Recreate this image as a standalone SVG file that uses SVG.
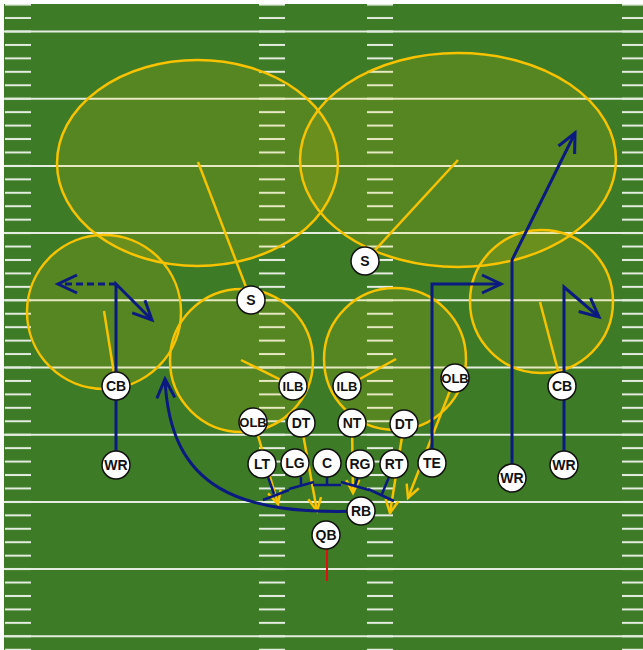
<svg xmlns="http://www.w3.org/2000/svg" width="643" height="650" viewBox="0 0 643 650">
<style>
.yl{stroke:#e4ede0;stroke-width:2}
.zone{fill:#ffd000;fill-opacity:.13;stroke:#f7c200;stroke-width:2.5}
.cov{stroke:#f7c200;stroke-width:2.5;fill:none}
.rush{stroke:#f7c200;stroke-width:2.5;fill:none;marker-end:url(#ya)}
.route{stroke:#0b1a80;stroke-width:3;fill:none}
.blk{stroke:#0b1a80;stroke-width:2.5;fill:none}
.node circle{fill:#fff;stroke:#111;stroke-width:1.5}
.node text{font-family:"Liberation Sans",Arial,sans-serif;font-weight:bold;font-size:14px;fill:#111;text-anchor:middle;dominant-baseline:central}
.node text.s{font-size:13px}
</style>
<defs>
<pattern id="hash" patternUnits="userSpaceOnUse" x="0" y="24.78" width="26" height="13.44">
<rect x="0" y="5.72" width="26" height="2" fill="#e4ede0"/>
</pattern>
<marker id="ba" markerUnits="userSpaceOnUse" viewBox="-22 -12 26 24" markerWidth="26" markerHeight="24" refX="0" refY="0" orient="auto" overflow="visible">
<path d="M-19,-9 L0,0 L-19,9" fill="none" stroke="#0b1a80" stroke-width="3"/>
</marker>
<marker id="ya" markerUnits="userSpaceOnUse" viewBox="-16 -9 20 18" markerWidth="20" markerHeight="18" refX="0" refY="0" orient="auto" overflow="visible">
<path d="M-13,-6.5 L0,0 L-13,6.5" fill="none" stroke="#f7c200" stroke-width="2.5"/>
</marker>
</defs>
<rect width="643" height="650" fill="#fff"/>
<g id="field">
<rect x="4" y="4" width="639" height="646" fill="#3d7b27"/>
<rect x="5" y="4" width="26" height="646" fill="url(#hash)"/>
<rect x="259" y="4" width="26" height="646" fill="url(#hash)"/>
<rect x="367" y="4" width="26" height="646" fill="url(#hash)"/>
<rect x="622" y="4" width="21" height="646" fill="url(#hash)"/>
<g class="yl">
<line x1="4" y1="31.5" x2="643" y2="31.5"/>
<line x1="4" y1="98.7" x2="643" y2="98.7"/>
<line x1="4" y1="165.9" x2="643" y2="165.9"/>
<line x1="4" y1="233.1" x2="643" y2="233.1"/>
<line x1="4" y1="300.3" x2="643" y2="300.3"/>
<line x1="4" y1="367.5" x2="643" y2="367.5"/>
<line x1="4" y1="434.7" x2="643" y2="434.7"/>
<line x1="4" y1="501.9" x2="643" y2="501.9"/>
<line x1="4" y1="569.1" x2="643" y2="569.1"/>
<line x1="4" y1="636.3" x2="643" y2="636.3"/>
</g>
</g>
<g id="zones">
<ellipse id="zone-deep-left" class="zone" cx="197.5" cy="163" rx="140.5" ry="103"/>
<ellipse id="zone-deep-right" class="zone" cx="458" cy="160" rx="158" ry="107"/>
<circle id="zone-flat-left" class="zone" cx="104" cy="312" r="77"/>
<circle id="zone-hook-left" class="zone" cx="241.5" cy="360.5" r="71.5"/>
<circle id="zone-hook-right" class="zone" cx="395" cy="359" r="71"/>
<circle id="zone-flat-right" class="zone" cx="541.5" cy="301.5" r="71.5"/>
</g>
<g id="connectors">
<line class="cov" x1="251" y1="300" x2="198" y2="162"/>
<line class="cov" x1="365" y1="261" x2="458" y2="160"/>
<line class="cov" x1="116" y1="386" x2="104" y2="311"/>
<line class="cov" x1="562" y1="386" x2="540" y2="302"/>
<line class="cov" x1="293" y1="386" x2="241" y2="360"/>
<line class="cov" x1="347" y1="386" x2="396" y2="359"/>
<line class="rush" x1="254" y1="422" x2="278" y2="504"/>
<line class="rush" x1="301" y1="423" x2="317" y2="511"/>
<line class="rush" x1="352" y1="423" x2="353" y2="493"/>
<line class="rush" x1="404" y1="424" x2="390" y2="513"/>
<line class="rush" x1="455" y1="378" x2="408" y2="498"/>
<line x1="327" y1="549" x2="327" y2="581" stroke="#e01010" stroke-width="2"/>
<path class="route" d="M116,465 V284 L152,320" marker-end="url(#ba)"/>
<path class="route" d="M116,284 H58" stroke-dasharray="7 4" marker-end="url(#ba)"/>
<path class="route" d="M432,463 V284 H501" marker-end="url(#ba)"/>
<path class="route" d="M512,478 V260 L575,133" marker-end="url(#ba)"/>
<path class="route" d="M564,465 V287 L599,317" marker-end="url(#ba)"/>
<path class="route" d="M361,511 C240,515 170,490 165,379" marker-end="url(#ba)"/>
<path class="blk" d="M268,477 L274,494 M263,500 L289,490 M301,477 L301,485 M289,489 L314,482 M327,477 V485 M313,485 H341 M358,477 L355,486 M341,482 L369,490 M389,477 L382,494 M368,489 L394,501"/>
</g>
<g id="S-left" class="node"><circle cx="251" cy="300" r="14"/><text x="251" y="300">S</text></g>
<g id="S-right" class="node"><circle cx="365" cy="261" r="14"/><text x="365" y="261">S</text></g>
<g id="CB-left" class="node"><circle cx="116" cy="386" r="14"/><text x="116" y="386">CB</text></g>
<g id="CB-right" class="node"><circle cx="562" cy="386" r="14"/><text x="562" y="386">CB</text></g>
<g id="ILB-left" class="node"><circle cx="293" cy="386" r="14"/><text class="s" x="293" y="386">ILB</text></g>
<g id="ILB-right" class="node"><circle cx="347" cy="386" r="14"/><text class="s" x="347" y="386">ILB</text></g>
<g id="OLB-left" class="node"><circle cx="253" cy="422" r="14"/><text class="s" x="253" y="422">OLB</text></g>
<g id="OLB-right" class="node"><circle cx="455" cy="378" r="14"/><text class="s" x="455" y="378">OLB</text></g>
<g id="DT-left" class="node"><circle cx="301" cy="423" r="14"/><text x="301" y="423">DT</text></g>
<g id="NT" class="node"><circle cx="352" cy="423" r="14"/><text x="352" y="423">NT</text></g>
<g id="DT-right" class="node"><circle cx="404" cy="424" r="14"/><text x="404" y="424">DT</text></g>
<g id="LT" class="node"><circle cx="262" cy="464" r="14"/><text x="262" y="464">LT</text></g>
<g id="LG" class="node"><circle cx="295" cy="463" r="14"/><text x="295" y="463">LG</text></g>
<g id="C" class="node"><circle cx="327" cy="463" r="14"/><text x="327" y="463">C</text></g>
<g id="RG" class="node"><circle cx="360" cy="464" r="14"/><text x="360" y="464">RG</text></g>
<g id="RT" class="node"><circle cx="394" cy="464" r="14"/><text x="394" y="464">RT</text></g>
<g id="TE" class="node"><circle cx="432" cy="463" r="14"/><text x="432" y="463">TE</text></g>
<g id="RB" class="node"><circle cx="361" cy="511" r="14"/><text x="361" y="511">RB</text></g>
<g id="QB" class="node"><circle cx="326" cy="535" r="14"/><text x="326" y="535">QB</text></g>
<g id="WR-left" class="node"><circle cx="116" cy="465" r="14"/><text x="116" y="465">WR</text></g>
<g id="WR-slot" class="node"><circle cx="512" cy="478" r="14"/><text x="512" y="478">WR</text></g>
<g id="WR-right" class="node"><circle cx="564" cy="465" r="14"/><text x="564" y="465">WR</text></g>
</svg>
